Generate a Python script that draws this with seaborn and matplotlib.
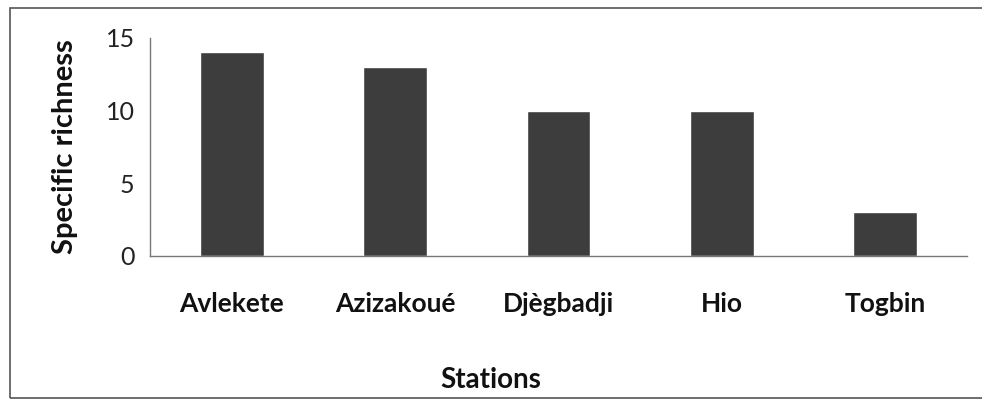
import numpy as np
import pandas as pd
import matplotlib
matplotlib.use('Agg')
import matplotlib.pyplot as plt
import seaborn as sns
from matplotlib.patches import Rectangle

stations = ['Avlekete', 'Azizakoué', 'Djègbadji', 'Hio', 'Togbin']
richness = [14, 13, 10, 10, 3]
y_ticks = [0, 5, 10, 15]

df = pd.DataFrame({'Stations': stations, 'Specific richness': richness})

sns.set_style('white')
plt.rcParams['font.family'] = ['Lato', 'DejaVu Sans']

fig = plt.figure(figsize=(9.82, 4.03), dpi=100)
ax = fig.add_axes([0.1527, 0.3648, 0.832, 0.541])

sns.barplot(data=df, x='Stations', y='Specific richness', color='#3d3d3d',
            width=0.39, saturation=1, ax=ax)

ax.set_ylim(0, 15)
ax.set_xlim(-0.5, len(stations) - 0.5)
ax.set_yticks(y_ticks)
ax.set_yticklabels([str(t) for t in y_ticks], fontsize=18, color='#222222')
ax.set_xticks(range(len(stations)))
ax.set_xticklabels(stations, fontsize=19, fontweight='bold', color='#111111')
ax.set_xticks(np.arange(-0.5, len(stations)), minor=True)
ax.tick_params(axis='x', which='major', length=0, pad=26)
ax.tick_params(axis='x', which='minor', length=8, width=1, color='#777777', direction='out')
ax.tick_params(axis='y', length=5, width=1, color='#777777', direction='out', pad=6)

for side in ['top', 'right']:
    ax.spines[side].set_visible(False)
for side in ['left', 'bottom']:
    ax.spines[side].set_color('#777777')
    ax.spines[side].set_linewidth(1)

ax.set_xlabel('')
fig.text(0.5, 0.057, 'Stations', ha='center', va='center', fontsize=20,
         fontweight='bold', color='#111111')
ax.set_ylabel('Specific richness', fontsize=21, fontweight='bold', color='#111111',
              labelpad=20)

fig.patches.append(Rectangle((0.0102, 0.012), 1.5, 0.968, transform=fig.transFigure,
                             fill=False, edgecolor='#555555', linewidth=1.2))

fig.savefig('out.png', dpi=100)
